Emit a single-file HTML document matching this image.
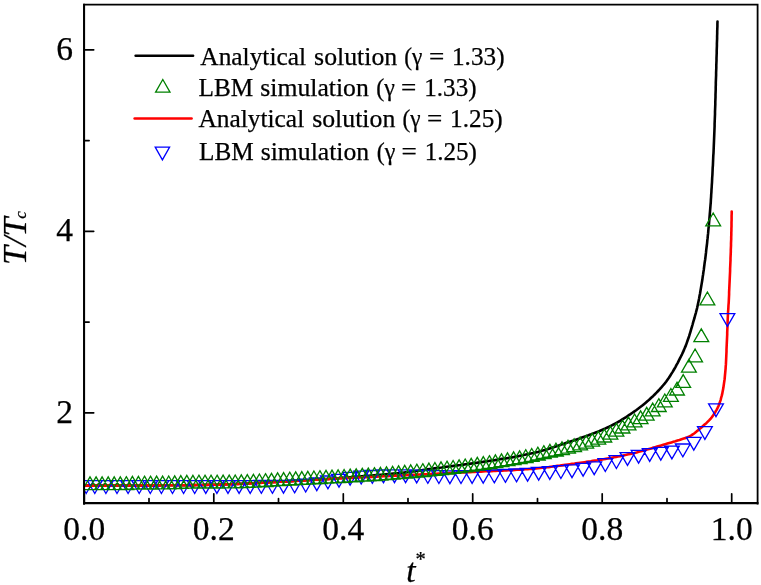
<!DOCTYPE html>
<html><head><meta charset="utf-8"><title>T/Tc vs t*</title>
<style>
html,body{margin:0;padding:0;background:#fff}
svg{display:block}
text{font-family:"Liberation Serif","Times New Roman",serif;fill:#000;stroke:#000;stroke-width:0.25px}
</style></head><body>
<svg width="761" height="585" viewBox="0 0 761 585">
<rect width="761" height="585" fill="#fff"/>
<defs><clipPath id="c"><rect x="84.1" y="4.6" width="673.5" height="498.2"/></clipPath></defs>
<g clip-path="url(#c)" fill="none">
<path d="M84.3,485.6 L86.7,485.6 L89.2,485.6 L91.6,485.6 L94.0,485.6 L96.5,485.6 L98.9,485.6 L101.4,485.6 L103.8,485.6 L106.2,485.6 L108.7,485.6 L111.1,485.6 L113.5,485.5 L116.0,485.5 L118.4,485.5 L120.9,485.5 L123.3,485.5 L125.7,485.5 L128.2,485.5 L130.6,485.5 L133.0,485.5 L135.5,485.5 L137.9,485.5 L140.3,485.4 L142.8,485.4 L145.2,485.4 L147.7,485.4 L150.1,485.4 L152.5,485.4 L155.0,485.4 L157.4,485.4 L159.8,485.4 L162.3,485.3 L164.7,485.3 L167.2,485.3 L169.6,485.3 L172.0,485.3 L174.5,485.3 L176.9,485.2 L179.3,485.2 L181.8,485.2 L184.2,485.2 L186.6,485.2 L189.1,485.1 L191.5,485.1 L194.0,485.1 L196.4,485.0 L198.8,485.0 L201.3,485.0 L203.7,484.9 L206.1,484.9 L208.6,484.8 L211.0,484.8 L213.4,484.7 L215.9,484.7 L218.3,484.6 L220.8,484.5 L223.2,484.4 L225.6,484.3 L228.1,484.3 L230.5,484.2 L232.9,484.1 L235.4,484.0 L237.8,483.9 L240.2,483.8 L242.7,483.7 L245.1,483.6 L247.5,483.5 L250.0,483.3 L252.4,483.2 L254.8,483.1 L257.3,482.9 L259.7,482.8 L262.1,482.7 L264.6,482.5 L267.0,482.4 L269.4,482.3 L271.9,482.1 L274.3,482.0 L276.7,481.9 L279.2,481.7 L281.6,481.6 L284.0,481.5 L286.5,481.4 L288.9,481.2 L291.3,481.1 L293.8,480.9 L296.2,480.8 L298.6,480.7 L301.1,480.5 L303.5,480.4 L305.9,480.2 L308.4,480.1 L310.8,480.0 L313.2,479.8 L315.7,479.6 L318.1,479.5 L320.5,479.3 L323.0,479.2 L325.4,479.0 L327.8,478.9 L330.3,478.7 L332.7,478.5 L335.1,478.3 L337.6,478.2 L340.0,478.0 L342.4,477.8 L344.8,477.6 L347.3,477.5 L349.7,477.3 L352.1,477.1 L354.6,476.9 L357.0,476.7 L359.4,476.5 L361.8,476.3 L364.3,476.1 L366.7,475.9 L369.1,475.7 L371.6,475.5 L374.0,475.3 L376.4,475.1 L378.8,474.9 L381.3,474.7 L383.7,474.5 L386.1,474.3 L388.6,474.1 L391.0,473.9 L393.4,473.6 L395.8,473.4 L398.3,473.2 L400.7,472.9 L403.1,472.7 L405.5,472.4 L407.9,472.1 L410.4,471.7 L412.8,471.4 L415.2,471.1 L417.6,470.7 L420.0,470.4 L422.4,470.1 L424.8,469.7 L427.3,469.4 L429.7,469.0 L432.1,468.7 L434.5,468.4 L436.9,468.1 L439.3,467.8 L441.8,467.5 L444.2,467.1 L446.6,466.8 L449.0,466.5 L451.4,466.2 L453.8,465.9 L456.3,465.6 L458.7,465.3 L461.1,465.0 L463.5,464.6 L465.9,464.3 L468.3,464.0 L470.8,463.6 L473.2,463.3 L475.6,463.0 L478.0,462.6 L480.4,462.2 L482.8,461.9 L485.2,461.5 L487.6,461.2 L490.0,460.8 L492.5,460.4 L494.9,460.1 L497.3,459.7 L499.7,459.3 L502.1,458.9 L504.5,458.6 L506.9,458.2 L509.3,457.8 L511.7,457.4 L514.2,456.9 L516.5,456.5 L518.9,456.1 L521.3,455.6 L523.7,455.1 L526.1,454.6 L528.5,454.1 L530.8,453.6 L533.2,453.1 L535.5,452.5 L537.9,451.9 L540.2,451.2 L542.6,450.6 L544.9,449.9 L547.3,449.2 L549.6,448.4 L551.9,447.7 L554.3,446.9 L556.6,446.2 L558.9,445.4 L561.2,444.6 L563.5,443.9 L565.8,443.1 L568.2,442.3 L570.5,441.5 L572.8,440.8 L575.1,440.0 L577.4,439.2 L579.7,438.4 L582.0,437.6 L584.3,436.8 L586.6,436.0 L588.9,435.1 L591.2,434.3 L593.5,433.4 L595.7,432.5 L598.0,431.6 L600.2,430.7 L602.5,429.7 L604.7,428.8 L606.9,427.7 L609.1,426.7 L611.3,425.6 L613.5,424.5 L615.6,423.4 L617.8,422.2 L619.9,421.0 L621.9,419.7 L624.0,418.4 L626.1,417.1 L628.1,415.7 L630.1,414.4 L632.1,413.0 L634.1,411.6 L636.1,410.2 L638.1,408.7 L640.0,407.3 L642.0,405.8 L643.9,404.2 L645.7,402.7 L647.6,401.1 L649.4,399.5 L651.2,397.8 L653.0,396.2 L654.7,394.5 L656.5,392.7 L658.1,391.0 L659.8,389.2 L661.4,387.4 L663.0,385.5 L664.6,383.6 L666.1,381.7 L667.5,379.7 L668.9,377.7 L670.2,375.7 L671.5,373.6 L672.8,371.6 L674.0,369.5 L675.3,367.3 L676.4,365.2 L677.6,363.1 L678.7,360.9 L679.8,358.7 L680.9,356.5 L682.0,354.3 L683.0,352.1 L684.0,349.9 L684.9,347.6 L685.9,345.4 L686.7,343.1 L687.5,340.8 L688.3,338.5 L689.1,336.2 L689.8,333.9 L690.5,331.6 L691.2,329.2 L691.9,326.9 L692.6,324.5 L693.2,322.2 L693.9,319.8 L694.6,317.5 L695.2,315.1 L695.9,312.8 L696.5,310.4 L697.1,308.1 L697.6,305.7 L698.1,303.3 L698.6,300.9 L699.1,298.5 L699.5,296.1 L700.0,293.7 L700.4,291.3 L700.8,288.9 L701.2,286.5 L701.6,284.1 L702.0,281.7 L702.4,279.3 L702.7,276.9 L703.1,274.5 L703.4,272.1 L703.8,269.7 L704.1,267.2 L704.4,264.8 L704.7,262.4 L705.1,260.0 L705.4,257.6 L705.7,255.2 L706.0,252.7 L706.2,250.3 L706.5,247.9 L706.8,245.5 L707.1,243.1 L707.3,240.6 L707.6,238.2 L707.8,235.8 L708.1,233.4 L708.3,230.9 L708.5,228.5 L708.8,226.1 L709.0,223.7 L709.2,221.2 L709.4,218.8 L709.6,216.4 L709.8,213.9 L710.0,211.5 L710.2,209.1 L710.4,206.7 L710.6,204.2 L710.8,201.8 L710.9,199.4 L711.1,196.9 L711.2,194.5 L711.4,192.1 L711.5,189.6 L711.7,187.2 L711.8,184.8 L712.0,182.3 L712.1,179.9 L712.2,177.5 L712.4,175.0 L712.5,172.6 L712.6,170.2 L712.7,167.7 L712.9,165.3 L713.0,162.9 L713.1,160.4 L713.2,158.0 L713.3,155.6 L713.5,153.1 L713.6,150.7 L713.7,148.3 L713.8,145.8 L713.9,143.4 L714.0,141.0 L714.1,138.5 L714.2,136.1 L714.3,133.6 L714.4,131.2 L714.5,128.8 L714.6,126.3 L714.6,123.9 L714.7,121.5 L714.8,119.0 L714.9,116.6 L715.0,114.2 L715.0,111.7 L715.1,109.3 L715.2,106.9 L715.3,104.4 L715.3,102.0 L715.4,99.6 L715.5,97.1 L715.5,94.7 L715.6,92.2 L715.7,89.8 L715.7,87.4 L715.8,84.9 L715.8,82.5 L715.9,80.1 L716.0,77.6 L716.1,75.2 L716.1,72.8 L716.2,70.3 L716.3,67.9 L716.3,65.4 L716.4,63.0 L716.5,60.6 L716.5,58.1 L716.6,55.7 L716.7,53.3 L716.7,50.8 L716.8,48.4 L716.9,46.0 L716.9,43.5 L717.0,41.1 L717.1,38.7 L717.1,36.2 L717.2,33.8 L717.2,31.3 L717.3,28.9 L717.4,26.5 L717.4,24.0 L717.5,21.6" stroke="#000" stroke-width="2.6" stroke-linecap="round" stroke-linejoin="round"/>
<path d="M84.3,485.6 L86.4,485.6 L88.5,485.6 L90.7,485.6 L92.8,485.6 L94.9,485.6 L97.0,485.6 L99.2,485.6 L101.3,485.6 L103.4,485.6 L105.5,485.6 L107.7,485.6 L109.8,485.6 L111.9,485.6 L114.0,485.5 L116.1,485.5 L118.3,485.5 L120.4,485.5 L122.5,485.5 L124.6,485.5 L126.8,485.5 L128.9,485.5 L131.0,485.5 L133.1,485.5 L135.3,485.5 L137.4,485.5 L139.5,485.4 L141.6,485.4 L143.7,485.4 L145.9,485.4 L148.0,485.4 L150.1,485.4 L152.2,485.4 L154.4,485.4 L156.5,485.4 L158.6,485.4 L160.7,485.3 L162.9,485.3 L165.0,485.3 L167.1,485.3 L169.2,485.3 L171.3,485.3 L173.5,485.3 L175.6,485.2 L177.7,485.2 L179.8,485.2 L182.0,485.2 L184.1,485.2 L186.2,485.2 L188.3,485.1 L190.5,485.1 L192.6,485.1 L194.7,485.1 L196.8,485.0 L198.9,485.0 L201.1,485.0 L203.2,485.0 L205.3,484.9 L207.4,484.9 L209.6,484.8 L211.7,484.8 L213.8,484.7 L215.9,484.7 L218.1,484.6 L220.2,484.6 L222.3,484.5 L224.4,484.5 L226.5,484.4 L228.7,484.3 L230.8,484.3 L232.9,484.2 L235.0,484.1 L237.2,484.0 L239.3,484.0 L241.4,483.9 L243.5,483.8 L245.6,483.7 L247.8,483.6 L249.9,483.5 L252.0,483.3 L254.1,483.2 L256.2,483.1 L258.4,483.0 L260.5,482.9 L262.6,482.8 L264.7,482.6 L266.8,482.5 L269.0,482.4 L271.1,482.3 L273.2,482.2 L275.3,482.1 L277.4,481.9 L279.6,481.8 L281.7,481.7 L283.8,481.6 L285.9,481.5 L288.0,481.4 L290.2,481.2 L292.3,481.1 L294.4,481.0 L296.5,480.9 L298.6,480.8 L300.8,480.6 L302.9,480.5 L305.0,480.4 L307.1,480.3 L309.2,480.2 L311.4,480.0 L313.5,479.9 L315.6,479.8 L317.7,479.7 L319.8,479.6 L322.0,479.4 L324.1,479.3 L326.2,479.2 L328.3,479.1 L330.4,479.0 L332.6,478.9 L334.7,478.8 L336.8,478.6 L338.9,478.5 L341.0,478.4 L343.2,478.3 L345.3,478.2 L347.4,478.1 L349.5,478.0 L351.6,477.9 L353.8,477.8 L355.9,477.7 L358.0,477.6 L360.1,477.5 L362.2,477.4 L364.4,477.3 L366.5,477.2 L368.6,477.1 L370.7,477.0 L372.8,476.9 L375.0,476.8 L377.1,476.6 L379.2,476.5 L381.3,476.4 L383.4,476.3 L385.6,476.2 L387.7,476.1 L389.8,476.0 L391.9,475.9 L394.1,475.8 L396.2,475.7 L398.3,475.6 L400.4,475.5 L402.5,475.4 L404.7,475.3 L406.8,475.2 L408.9,475.0 L411.0,474.9 L413.1,474.8 L415.3,474.7 L417.4,474.6 L419.5,474.5 L421.6,474.4 L423.7,474.3 L425.9,474.2 L428.0,474.1 L430.1,474.0 L432.2,473.9 L434.3,473.8 L436.5,473.7 L438.6,473.6 L440.7,473.5 L442.8,473.4 L444.9,473.3 L447.1,473.2 L449.2,473.1 L451.3,473.0 L453.4,472.9 L455.5,472.8 L457.7,472.7 L459.8,472.6 L461.9,472.5 L464.0,472.4 L466.2,472.3 L468.3,472.2 L470.4,472.1 L472.5,472.0 L474.6,471.9 L476.8,471.8 L478.9,471.7 L481.0,471.6 L483.1,471.4 L485.2,471.3 L487.4,471.2 L489.5,471.2 L491.6,471.1 L493.7,471.0 L495.8,470.9 L498.0,470.8 L500.1,470.7 L502.2,470.6 L504.3,470.5 L506.5,470.4 L508.6,470.3 L510.7,470.2 L512.8,470.1 L514.9,469.9 L517.1,469.8 L519.2,469.7 L521.3,469.6 L523.4,469.5 L525.5,469.3 L527.6,469.2 L529.8,469.0 L531.9,468.9 L534.0,468.7 L536.1,468.5 L538.2,468.3 L540.3,468.0 L542.4,467.8 L544.5,467.6 L546.7,467.3 L548.8,467.1 L550.9,466.8 L553.0,466.5 L555.1,466.2 L557.2,465.9 L559.3,465.7 L561.4,465.4 L563.5,465.1 L565.6,464.8 L567.7,464.5 L569.8,464.2 L571.9,463.9 L574.0,463.7 L576.1,463.4 L578.2,463.1 L580.3,462.8 L582.4,462.5 L584.5,462.2 L586.6,461.9 L588.7,461.6 L590.8,461.3 L592.9,460.9 L595.0,460.6 L597.1,460.3 L599.2,459.9 L601.3,459.6 L603.4,459.2 L605.5,458.9 L607.6,458.5 L609.7,458.1 L611.8,457.7 L613.9,457.3 L616.0,456.9 L618.0,456.5 L620.1,456.1 L622.2,455.7 L624.3,455.2 L626.4,454.8 L628.4,454.3 L630.5,453.9 L632.6,453.4 L634.6,452.9 L636.7,452.4 L638.7,451.8 L640.8,451.3 L642.8,450.7 L644.9,450.2 L646.9,449.6 L649.0,449.0 L651.0,448.4 L653.1,447.8 L655.1,447.2 L657.1,446.6 L659.2,446.0 L661.2,445.4 L663.2,444.8 L665.3,444.2 L667.3,443.6 L669.3,443.0 L671.4,442.4 L673.4,441.8 L675.4,441.2 L677.5,440.5 L679.5,439.9 L681.5,439.2 L683.6,438.6 L685.6,437.9 L687.6,437.2 L689.5,436.3 L691.3,435.4 L693.1,434.2 L694.8,433.0 L696.5,431.6 L698.1,430.2 L699.8,428.8 L701.4,427.4 L703.0,426.0 L704.6,424.6 L706.3,423.2 L707.8,421.7 L709.3,420.2 L710.7,418.6 L712.0,417.0 L713.2,415.3 L714.4,413.5 L715.5,411.7 L716.6,409.8 L717.6,407.9 L718.5,406.0 L719.2,404.0 L719.9,402.1 L720.6,400.1 L721.1,398.0 L721.7,395.9 L722.2,393.9 L722.6,391.8 L723.0,389.7 L723.4,387.6 L723.7,385.5 L724.0,383.4 L724.3,381.3 L724.6,379.2 L724.8,377.1 L725.0,374.9 L725.2,372.8 L725.4,370.7 L725.6,368.6 L725.7,366.5 L725.9,364.4 L726.0,362.2 L726.1,360.1 L726.2,358.0 L726.3,355.9 L726.4,353.8 L726.5,351.6 L726.5,349.5 L726.6,347.4 L726.7,345.3 L726.8,343.1 L726.9,341.0 L727.0,338.9 L727.1,336.8 L727.2,334.7 L727.2,332.5 L727.3,330.4 L727.4,328.3 L727.5,326.2 L727.6,324.0 L727.6,321.9 L727.7,319.8 L727.8,317.7 L727.9,315.6 L728.0,313.4 L728.1,311.3 L728.3,309.2 L728.4,307.1 L728.5,305.0 L728.7,302.8 L728.8,300.7 L728.9,298.6 L729.0,296.5 L729.1,294.4 L729.1,292.2 L729.2,290.1 L729.3,288.0 L729.4,285.9 L729.5,283.8 L729.6,281.6 L729.7,279.5 L729.8,277.4 L729.9,275.3 L730.0,273.2 L730.1,271.0 L730.1,268.9 L730.2,266.8 L730.3,264.7 L730.4,262.5 L730.5,260.4 L730.5,258.3 L730.6,256.2 L730.7,254.1 L730.8,251.9 L730.8,249.8 L730.9,247.7 L731.0,245.6 L731.0,243.4 L731.1,241.3 L731.2,239.2 L731.2,237.1 L731.3,235.0 L731.3,232.8 L731.4,230.7 L731.4,228.6 L731.5,226.5 L731.5,224.3 L731.5,222.2 L731.6,220.1 L731.6,218.0 L731.6,215.8 L731.7,213.7 L731.7,211.6" stroke="#ff0000" stroke-width="2.6" stroke-linecap="round" stroke-linejoin="round"/>
<path d="M727.4,326.4l7.4,-12.8h-14.8zM716.0,416.6l7.4,-12.8h-14.8zM704.9,439.4l7.4,-12.8h-14.8zM693.8,450.1l7.4,-12.8h-14.8zM682.8,456.8l7.4,-12.8h-14.8zM671.9,458.9l7.4,-12.8h-14.8zM660.8,460.1l7.4,-12.8h-14.8zM649.7,461.4l7.4,-12.8h-14.8zM638.6,463.1l7.4,-12.8h-14.8zM627.5,465.4l7.4,-12.8h-14.8zM616.4,468.5l7.4,-12.8h-14.8zM605.3,471.5l7.4,-12.8h-14.8zM594.2,474.6l7.4,-12.8h-14.8zM583.1,476.1l7.4,-12.8h-14.8zM572.0,477.6l7.4,-12.8h-14.8zM560.9,478.5l7.4,-12.8h-14.8zM549.8,479.4l7.4,-12.8h-14.8zM538.7,480.1l7.4,-12.8h-14.8zM527.6,481.2l7.4,-12.8h-14.8zM516.5,481.8l7.4,-12.8h-14.8zM505.4,482.3l7.4,-12.8h-14.8zM494.3,482.8l7.4,-12.8h-14.8zM483.2,483.2l7.4,-12.8h-14.8zM472.1,483.4l7.4,-12.8h-14.8zM461.0,483.5l7.4,-12.8h-14.8zM449.9,483.6l7.4,-12.8h-14.8zM438.9,483.5l7.4,-12.8h-14.8zM427.8,483.3l7.4,-12.8h-14.8zM416.7,482.9l7.4,-12.8h-14.8zM405.6,482.7l7.4,-12.8h-14.8zM394.5,482.7l7.4,-12.8h-14.8zM383.4,482.8l7.4,-12.8h-14.8zM372.3,483.3l7.4,-12.8h-14.8zM361.2,484.0l7.4,-12.8h-14.8zM350.1,485.2l7.4,-12.8h-14.8zM339.0,487.1l7.4,-12.8h-14.8zM327.9,488.8l7.4,-12.8h-14.8zM316.8,490.7l7.4,-12.8h-14.8zM305.7,492.0l7.4,-12.8h-14.8zM294.6,492.8l7.4,-12.8h-14.8zM283.5,493.2l7.4,-12.8h-14.8zM272.4,493.3l7.4,-12.8h-14.8zM261.3,493.3l7.4,-12.8h-14.8zM250.2,493.4l7.4,-12.8h-14.8zM239.1,493.4l7.4,-12.8h-14.8zM228.0,493.4l7.4,-12.8h-14.8zM216.9,493.4l7.4,-12.8h-14.8zM205.8,493.4l7.4,-12.8h-14.8zM194.7,493.5l7.4,-12.8h-14.8zM183.6,493.5l7.4,-12.8h-14.8zM172.5,493.5l7.4,-12.8h-14.8zM161.4,493.5l7.4,-12.8h-14.8zM150.3,493.5l7.4,-12.8h-14.8zM139.2,493.5l7.4,-12.8h-14.8zM128.1,493.5l7.4,-12.8h-14.8zM117.0,493.5l7.4,-12.8h-14.8zM105.9,493.5l7.4,-12.8h-14.8zM94.8,493.5l7.4,-12.8h-14.8zM86.2,493.5l7.4,-12.8h-14.8z" stroke="#0000ff" stroke-width="1.3"/>
<path d="M713.2,213.0l7.4,12.8h-14.8zM707.4,292.0l7.4,12.8h-14.8zM701.3,328.9l7.4,12.8h-14.8zM695.1,349.0l7.4,12.8h-14.8zM688.9,359.3l7.4,12.8h-14.8zM683.2,374.6l7.4,12.8h-14.8zM677.0,382.2l7.4,12.8h-14.8zM90.0,476.9l7.4,12.8h-14.8zM96.1,476.9l7.4,12.8h-14.8zM102.1,476.9l7.4,12.8h-14.8zM108.2,476.8l7.4,12.8h-14.8zM114.2,476.8l7.4,12.8h-14.8zM120.3,476.8l7.4,12.8h-14.8zM126.3,476.7l7.4,12.8h-14.8zM132.4,476.4l7.4,12.8h-14.8zM138.4,476.3l7.4,12.8h-14.8zM144.5,476.2l7.4,12.8h-14.8zM150.5,476.2l7.4,12.8h-14.8zM156.6,476.1l7.4,12.8h-14.8zM162.6,476.1l7.4,12.8h-14.8zM168.7,476.0l7.4,12.8h-14.8zM174.7,475.9l7.4,12.8h-14.8zM180.8,475.6l7.4,12.8h-14.8zM186.8,475.3l7.4,12.8h-14.8zM192.9,475.3l7.4,12.8h-14.8zM198.9,475.2l7.4,12.8h-14.8zM205.0,475.2l7.4,12.8h-14.8zM211.0,475.2l7.4,12.8h-14.8zM217.1,475.2l7.4,12.8h-14.8zM223.1,475.1l7.4,12.8h-14.8zM229.2,475.1l7.4,12.8h-14.8zM235.2,475.0l7.4,12.8h-14.8zM241.3,474.8l7.4,12.8h-14.8zM247.3,474.6l7.4,12.8h-14.8zM253.4,474.3l7.4,12.8h-14.8zM259.4,474.0l7.4,12.8h-14.8zM265.5,473.7l7.4,12.8h-14.8zM271.5,473.3l7.4,12.8h-14.8zM277.6,472.9l7.4,12.8h-14.8zM283.6,472.6l7.4,12.8h-14.8zM289.7,472.2l7.4,12.8h-14.8zM295.7,471.9l7.4,12.8h-14.8zM301.8,471.6l7.4,12.8h-14.8zM307.8,471.3l7.4,12.8h-14.8zM313.9,471.0l7.4,12.8h-14.8zM319.9,470.7l7.4,12.8h-14.8zM326.0,470.4l7.4,12.8h-14.8zM332.0,470.1l7.4,12.8h-14.8zM338.1,469.8l7.4,12.8h-14.8zM344.1,469.5l7.4,12.8h-14.8zM350.2,469.1l7.4,12.8h-14.8zM356.2,468.8l7.4,12.8h-14.8zM362.3,468.4l7.4,12.8h-14.8zM368.3,468.1l7.4,12.8h-14.8zM374.4,467.7l7.4,12.8h-14.8zM380.4,467.3l7.4,12.8h-14.8zM386.5,466.8l7.4,12.8h-14.8zM392.6,466.3l7.4,12.8h-14.8zM398.6,465.8l7.4,12.8h-14.8zM404.7,465.3l7.4,12.8h-14.8zM410.7,464.8l7.4,12.8h-14.8zM416.8,464.2l7.4,12.8h-14.8zM422.8,463.7l7.4,12.8h-14.8zM428.9,463.1l7.4,12.8h-14.8zM434.9,462.5l7.4,12.8h-14.8zM441.0,461.9l7.4,12.8h-14.8zM447.0,461.2l7.4,12.8h-14.8zM453.1,460.5l7.4,12.8h-14.8zM459.1,459.8l7.4,12.8h-14.8zM465.2,459.0l7.4,12.8h-14.8zM471.2,458.3l7.4,12.8h-14.8zM477.3,457.4l7.4,12.8h-14.8zM483.3,456.6l7.4,12.8h-14.8zM489.4,455.7l7.4,12.8h-14.8zM495.4,454.8l7.4,12.8h-14.8zM501.5,453.9l7.4,12.8h-14.8zM507.5,452.9l7.4,12.8h-14.8zM513.6,451.9l7.4,12.8h-14.8zM519.6,450.8l7.4,12.8h-14.8zM525.7,449.7l7.4,12.8h-14.8zM531.7,448.5l7.4,12.8h-14.8zM537.8,447.2l7.4,12.8h-14.8zM543.8,445.7l7.4,12.8h-14.8zM549.9,444.4l7.4,12.8h-14.8zM555.9,443.2l7.4,12.8h-14.8zM562.0,441.8l7.4,12.8h-14.8zM568.0,440.4l7.4,12.8h-14.8zM574.1,438.8l7.4,12.8h-14.8zM580.1,437.1l7.4,12.8h-14.8zM586.2,435.3l7.4,12.8h-14.8zM592.2,433.4l7.4,12.8h-14.8zM598.3,431.4l7.4,12.8h-14.8zM604.3,429.2l7.4,12.8h-14.8zM610.4,426.4l7.4,12.8h-14.8zM616.4,423.3l7.4,12.8h-14.8zM622.5,420.2l7.4,12.8h-14.8zM628.5,417.1l7.4,12.8h-14.8zM634.6,414.0l7.4,12.8h-14.8zM640.6,410.8l7.4,12.8h-14.8zM646.7,407.4l7.4,12.8h-14.8zM652.7,403.1l7.4,12.8h-14.8zM658.8,398.7l7.4,12.8h-14.8zM664.8,394.0l7.4,12.8h-14.8zM670.9,388.5l7.4,12.8h-14.8z" stroke="#008000" stroke-width="1.3"/>
</g>
<path d="M84.3,502.8v-9.0M149.0,502.8v-4.3M213.8,502.8v-9.0M278.5,502.8v-4.3M343.3,502.8v-9.0M408.0,502.8v-4.3M472.7,502.8v-9.0M537.5,502.8v-4.3M602.2,502.8v-9.0M667.0,502.8v-4.3M731.7,502.8v-9.0M84.1,412.8h9.6M84.1,322.1h5.0M84.1,231.3h9.6M84.1,140.6h5.0M84.1,49.8h9.6" stroke="#000" stroke-width="1.7" stroke-linecap="round" fill="none"/>
<path d="M84.1,504.5V4.6H757.6V504.5" fill="none" stroke="#000" stroke-width="1.8"/>
<path d="M84.1,3.6999999999999997V504.5" fill="none" stroke="#000" stroke-width="2.0"/>
<path d="M83.1,503.2H758.5" fill="none" stroke="#000" stroke-width="2.3"/>
<g font-size="33.5" text-anchor="middle"><text x="84.3" y="540">0.0</text><text x="213.8" y="540">0.2</text><text x="343.3" y="540">0.4</text><text x="472.7" y="540">0.6</text><text x="602.2" y="540">0.8</text><text x="731.7" y="540">1.0</text></g>
<g font-size="33.5" text-anchor="end"><text x="72.9" y="422.7">2</text><text x="72.9" y="241.2">4</text><text x="72.9" y="59.7">6</text></g>
<g font-size="24.5"><text y="64.6"><tspan x="200.3" textLength="105.8" lengthAdjust="spacingAndGlyphs">Analytical</tspan> <tspan x="314.1" textLength="83.1" lengthAdjust="spacingAndGlyphs">solution</tspan> <tspan x="404.3" textLength="18.1" lengthAdjust="spacingAndGlyphs">(γ</tspan> <tspan x="428.9" textLength="15.3" lengthAdjust="spacingAndGlyphs">=</tspan> <tspan x="452.0" textLength="52.6" lengthAdjust="spacingAndGlyphs">1.33)</tspan></text><text y="96.3"><tspan x="198.6" textLength="54.7" lengthAdjust="spacingAndGlyphs">LBM</tspan> <tspan x="260.3" textLength="108.5" lengthAdjust="spacingAndGlyphs">simulation</tspan> <tspan x="376.3" textLength="18.6" lengthAdjust="spacingAndGlyphs">(γ</tspan> <tspan x="401.0" textLength="15.3" lengthAdjust="spacingAndGlyphs">=</tspan> <tspan x="424.3" textLength="52.3" lengthAdjust="spacingAndGlyphs">1.33)</tspan></text><text y="127.0"><tspan x="198.4" textLength="105.8" lengthAdjust="spacingAndGlyphs">Analytical</tspan> <tspan x="312.2" textLength="83.1" lengthAdjust="spacingAndGlyphs">solution</tspan> <tspan x="402.4" textLength="18.1" lengthAdjust="spacingAndGlyphs">(γ</tspan> <tspan x="427.0" textLength="15.3" lengthAdjust="spacingAndGlyphs">=</tspan> <tspan x="450.1" textLength="52.6" lengthAdjust="spacingAndGlyphs">1.25)</tspan></text><text y="160.0"><tspan x="199.0" textLength="54.7" lengthAdjust="spacingAndGlyphs">LBM</tspan> <tspan x="260.7" textLength="108.5" lengthAdjust="spacingAndGlyphs">simulation</tspan> <tspan x="376.7" textLength="18.6" lengthAdjust="spacingAndGlyphs">(γ</tspan> <tspan x="401.4" textLength="15.3" lengthAdjust="spacingAndGlyphs">=</tspan> <tspan x="424.7" textLength="52.3" lengthAdjust="spacingAndGlyphs">1.25)</tspan></text></g>
<path d="M135.6,55.7H193.1" stroke="#000" stroke-width="2.5" stroke-linecap="round"/>
<path d="M134.6,118.4H191.6" stroke="#ff0000" stroke-width="2.5" stroke-linecap="round"/>
<path d="M162.8,79.5l7.2,12.7h-14.4z" stroke="#008000" stroke-width="1.3" fill="none"/>
<path d="M162.4,159.9l7.2,-12.8h-14.4z" stroke="#0000ff" stroke-width="1.3" fill="none"/>
<text x="406.3" y="581.6" font-size="33.5" font-style="italic">t<tspan font-size="20.5" font-style="normal" dy="-15.6" dx="0">*</tspan></text>
<text transform="translate(25.6,264.9) rotate(-90)" font-size="34" font-style="italic">T/T<tspan font-size="17" dy="0.7" dx="-1.2">c</tspan></text>
</svg>
</body></html>
